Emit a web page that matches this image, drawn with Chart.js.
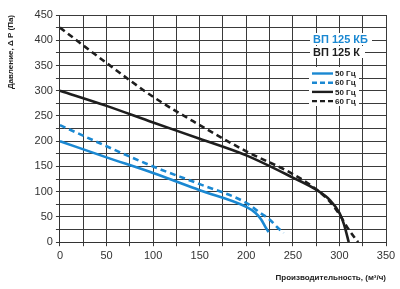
<!DOCTYPE html>
<html>
<head>
<meta charset="utf-8">
<script src="https://cdn.jsdelivr.net/npm/chart.js@4"></script>
<style>
  html, body { margin: 0; padding: 0; background: #fff; }
  #wrap { width: 400px; height: 289px; }
</style>
</head>
<body>
<div id="wrap"><canvas id="chart"></canvas></div>
<script>
// curves
const kb50x = [0, 50, 100, 150, 200, 210, 216, 220, 224];
const kb50y = [200, 168, 137, 103, 70, 58, 45, 32, 20];
const kb60x = [0, 50, 100, 150, 200, 215, 225, 233, 240];
const kb60y = [232, 190, 150, 115, 78, 58, 45, 30, 18];
const k50x = [0, 50, 100, 150, 200, 250, 275, 290, 300, 305, 310];
const k50y = [300, 270, 237, 205, 172, 128, 104, 83, 58, 35, 0];
const k60x = [0, 50, 100, 150, 200, 250, 275, 290, 300, 310, 320];
const k60y = [425, 355, 288, 232, 180, 135, 105, 80, 55, 25, 0];

const xTicks = [0, 50, 100, 150, 200, 250, 300, 350];
const yTicks = [0, 50, 100, 150, 200, 250, 300, 350, 400, 450];

const BLUE = "#1a88d2";
const BLACK = "#1e1e1e";

const pts = (xs, ys) => xs.map((x, i) => ({ x: x, y: ys[i] }));

const line = (label, xs, ys, color, dash) => ({
  label: label,
  data: pts(xs, ys),
  borderColor: color,
  borderWidth: 2.6,
  borderDash: dash,
  pointRadius: 0,
  fill: false,
  cubicInterpolationMode: "monotone",
});

// series labels and the little legend box at top right
const boxPlugin = {
  id: "box",
  afterDatasetsDraw(chart) {
    const ctx = chart.ctx;
    ctx.save();
    ctx.fillStyle = "#fff";
    ctx.fillRect(310, 33, 62, 12);
    ctx.fillRect(310, 46, 55, 12);
    ctx.fillRect(309, 67, 50, 39);

    ctx.font = "bold 11px 'Liberation Sans', Arial, sans-serif";
    ctx.textBaseline = "middle";
    ctx.fillStyle = BLUE;
    ctx.fillText("ВП 125 КБ", 313, 39.5);
    ctx.fillStyle = BLACK;
    ctx.fillText("ВП 125 К", 313, 52.5);

    const rows = [
      ["50 Гц", BLUE, []],
      ["60 Гц", BLUE, [5, 3]],
      ["50 Гц", BLACK, []],
      ["60 Гц", BLACK, [5, 3]],
    ];
    ctx.font = "bold 8px 'Liberation Sans', Arial, sans-serif";
    rows.forEach((r, i) => {
      const y = 73.5 + i * 9.2;
      ctx.strokeStyle = r[1];
      ctx.lineWidth = 2.4;
      ctx.setLineDash(r[2]);
      ctx.beginPath();
      ctx.moveTo(312, y);
      ctx.lineTo(333, y);
      ctx.stroke();
      ctx.fillStyle = "#222";
      ctx.fillText(r[0], 335, y + 0.5);
    });
    ctx.restore();
  },
};

new Chart(document.getElementById("chart"), {
  type: "line",
  data: {
    datasets: [
      line("ВП 125 КБ 50 Гц", kb50x, kb50y, BLUE, []),
      line("ВП 125 КБ 60 Гц", kb60x, kb60y, BLUE, [6, 4]),
      line("ВП 125 К 50 Гц", k50x, k50y, BLACK, []),
      line("ВП 125 К 60 Гц", k60x, k60y, BLACK, [6, 4]),
    ],
  },
  options: {
    responsive: true,
    maintainAspectRatio: false,
    animation: false,
    layout: { padding: { top: 15, right: 14, left: 2, bottom: 2 } },
    plugins: { legend: { display: false }, tooltip: { enabled: false } },
    scales: {
      x: {
        type: "linear",
        min: 0,
        max: 350,
        border: { color: "#333", width: 1 },
        grid: { color: "#3a3a3a", lineWidth: 1, tickLength: 4 },
        ticks: {
          stepSize: 25,
          color: "#333",
          font: { size: 11, family: "'Liberation Sans', Arial, sans-serif" },
          maxRotation: 0,
          autoSkip: false,
          callback: (v) => (xTicks.includes(v) ? v : ""),
        },
        title: {
          display: true,
          text: "Производительность, (м³/ч)",
          align: "end",
          color: "#222",
          font: { size: 8, weight: "bold", family: "'Liberation Sans', Arial, sans-serif" },
          padding: { top: 8 },
        },
      },
      y: {
        min: 0,
        max: 450,
        border: { color: "#333", width: 1 },
        grid: { color: "#3a3a3a", lineWidth: 1, tickLength: 4 },
        ticks: {
          stepSize: 25,
          color: "#333",
          font: { size: 11, family: "'Liberation Sans', Arial, sans-serif" },
          autoSkip: false,
          callback: (v) => (yTicks.includes(v) ? v : ""),
        },
        title: {
          display: true,
          text: "Давление, Δ P (Па)",
          align: "end",
          color: "#222",
          font: { size: 8, weight: "bold", family: "'Liberation Sans', Arial, sans-serif" },
          padding: { top: 4, bottom: 16 },
        },
      },
    },
  },
  plugins: [boxPlugin],
});
</script>
</body>
</html>
